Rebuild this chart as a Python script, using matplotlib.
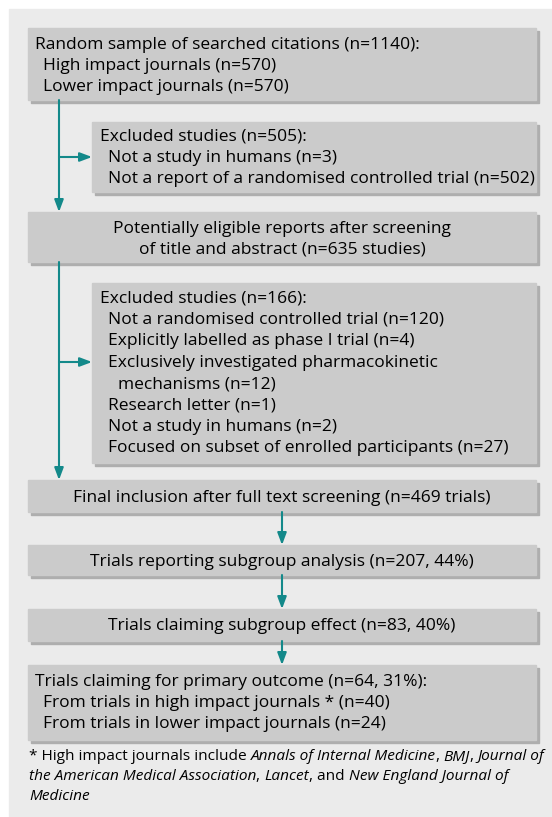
import matplotlib.pyplot as plt
from matplotlib.patches import Rectangle

plt.rcParams['font.family'] = ['Open Sans', 'DejaVu Sans']

# ---- contenido del diagrama ----
caja1 = [(0, 'Random sample of searched citations (n=1140):'),
         (1, 'High impact journals (n=570)'),
         (1, 'Lower impact journals (n=570)')]
caja2 = [(0, 'Excluded studies (n=505):'),
         (1, 'Not a study in humans (n=3)'),
         (1, 'Not a report of a randomised controlled trial (n=502)')]
caja3 = ['Potentially eligible reports after screening',
         'of title and abstract (n=635 studies)']
caja4 = [(0, 'Excluded studies (n=166):'),
         (1, 'Not a randomised controlled trial (n=120)'),
         (1, 'Explicitly labelled as phase I trial (n=4)'),
         (1, 'Exclusively investigated pharmacokinetic'),
         (2, 'mechanisms (n=12)'),
         (1, 'Research letter (n=1)'),
         (1, 'Not a study in humans (n=2)'),
         (1, 'Focused on subset of enrolled participants (n=27)')]
caja5 = 'Final inclusion after full text screening (n=469 trials)'
caja6 = 'Trials reporting subgroup analysis (n=207, 44%)'
caja7 = 'Trials claiming subgroup effect (n=83, 40%)'
caja8 = [(0, 'Trials claiming for primary outcome (n=64, 31%):'),
         (1, 'From trials in high impact journals * (n=40)'),
         (1, 'From trials in lower impact journals (n=24)')]
# nota al pie: (texto, cursiva)
nota = [[('* High impact journals include ', False), ('Annals of Internal Medicine', True),
         (', ', False), ('BMJ', True), (', ', False), ('Journal of', True)],
        [('the American Medical Association', True), (', ', False), ('Lancet', True),
         (', and ', False), ('New England Journal of', True)],
        [('Medicine', True)]]

# ---- estilo ----
W, H = 552, 817
fondo = '#ebebeb'
gris = '#cbcbcb'
sombra = '#aeaeae'
verde = '#13898a'
fs = 12.55
fs_nota = 11.1
sangria = [0, 8, 18]
paso = 21.4
dy = 1.5  # ajuste vertical del texto

fig = plt.figure(figsize=(W / 100, H / 100), dpi=100)
ax = fig.add_axes([0, 0, 1, 1])
ax.set_xlim(0, W)
ax.set_ylim(H, 0)
ax.axis('off')

ax.add_patch(Rectangle((9, 9), W - 9, H - 9, color=fondo, zorder=0))


def caja(x0, y0, x1, y1):
    ax.add_patch(Rectangle((x0 + 3, y0 + 3), x1 - x0, y1 - y0, color=sombra, zorder=1))
    ax.add_patch(Rectangle((x0, y0), x1 - x0, y1 - y0, color=gris, zorder=2))


def lineas(items, x, y):
    for i, (nivel, t) in enumerate(items):
        ax.text(x + sangria[nivel], y + dy + i * paso, t, fontsize=fs, va='center', ha='left', zorder=3)


def centrado(t, y):
    ax.text(282, y + dy, t, fontsize=fs, va='center', ha='center', zorder=3)


def flecha(x0, y0, x1, y1):
    ax.annotate('', xy=(x1, y1), xytext=(x0, y0),
                arrowprops=dict(arrowstyle='-|>,head_length=0.8,head_width=0.3', color=verde,
                                lw=1.5, shrinkA=0, shrinkB=0, mutation_scale=9), zorder=4)


caja(28, 28, 536, 100)
lineas(caja1, 35, 43)
caja(92, 122, 536, 192)
lineas(caja2, 100, 135)
caja(28, 212, 536, 262)
for i, t in enumerate(caja3):
    centrado(t, 227 + i * 20.5)
caja(92, 283, 536, 463)
lineas(caja4, 100, 297)
caja(28, 480, 536, 512)
centrado(caja5, 496.5)
caja(28, 545, 536, 575)
centrado(caja6, 560.5)
caja(28, 609, 536, 641)
centrado(caja7, 625)
caja(28, 665, 536, 740)
lineas(caja8, 35, 680)

# flechas
flecha(59, 100, 59, 212)
flecha(59, 157, 92, 157)
flecha(59, 262, 59, 480)
flecha(59, 362, 92, 362)
flecha(282, 512, 282, 545)
flecha(282, 575, 282, 609)
flecha(282, 641, 282, 665)

# nota al pie con cursivas
fig.canvas.draw()
r = fig.canvas.get_renderer()
for i, partes in enumerate(nota):
    x = 29
    for t, it in partes:
        tx = ax.text(x, 757 + i * 19.5, t, fontsize=fs_nota, va='center', ha='left',
                     style='italic' if it else 'normal', zorder=3)
        x += tx.get_window_extent(r).width

fig.savefig('out.png', dpi=100)
